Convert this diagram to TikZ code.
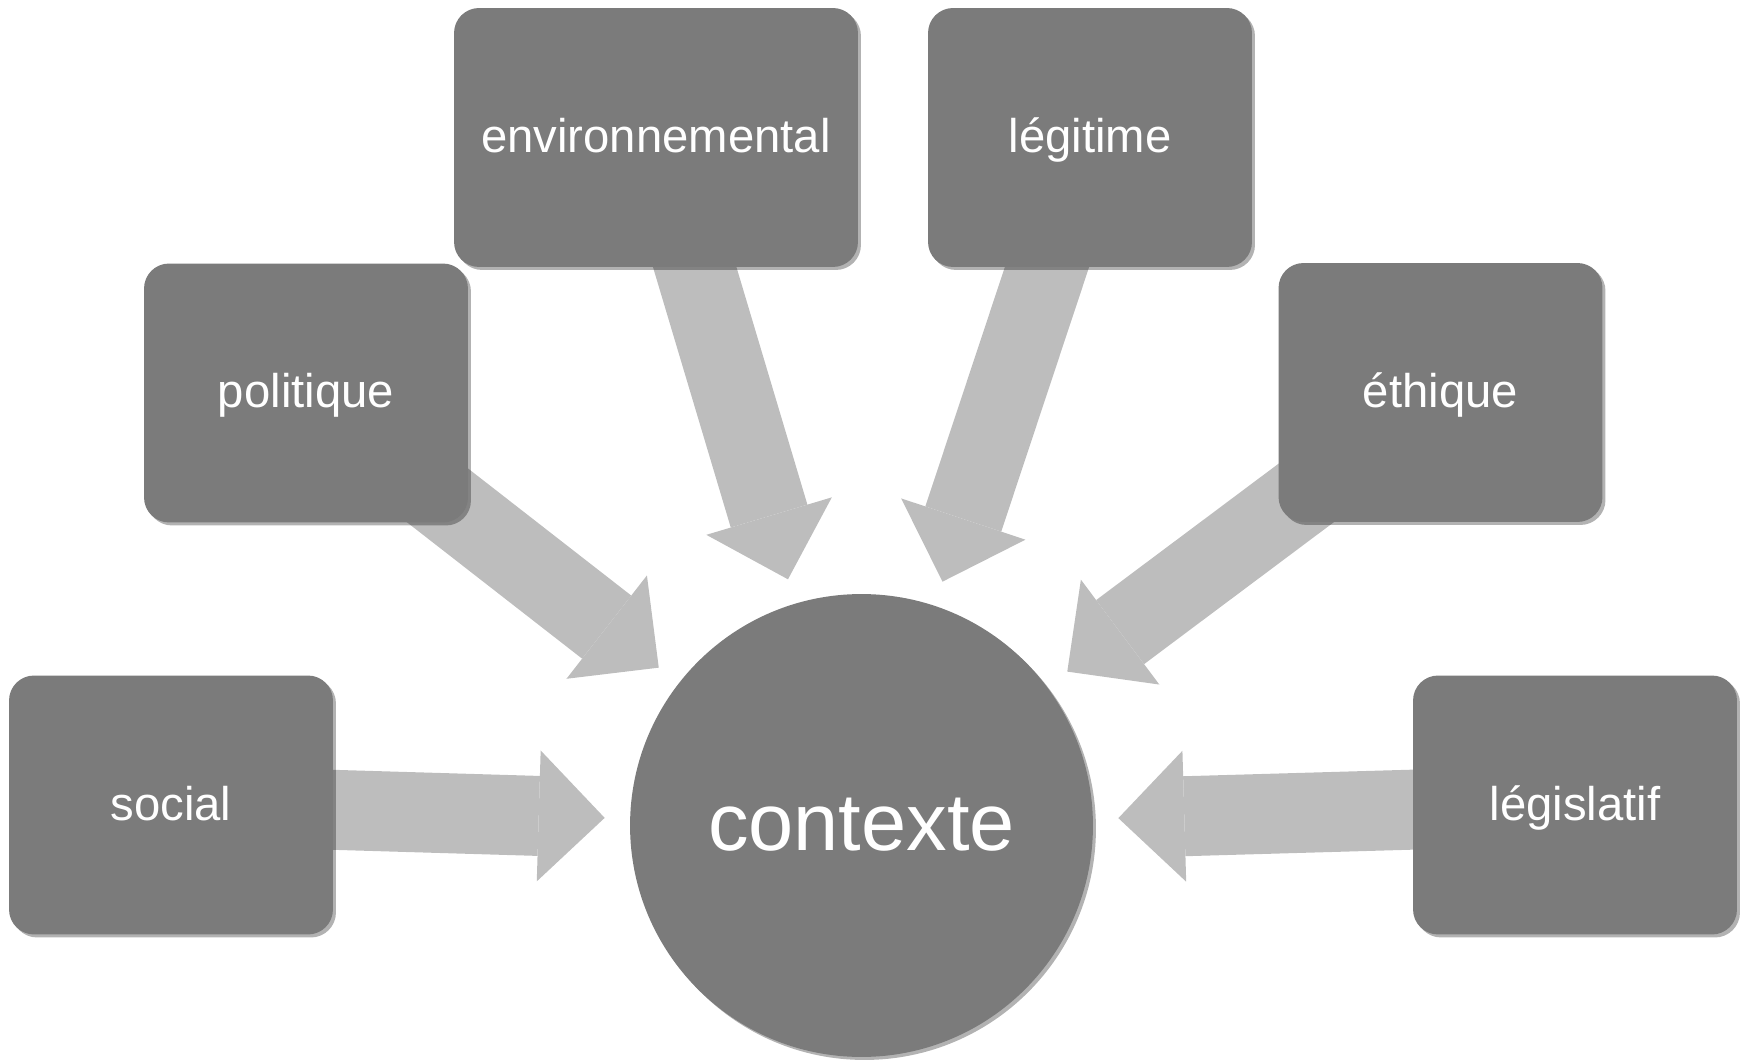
\documentclass[tikz,border=0pt]{standalone}
\usepackage{fontspec}
\setmainfont{Liberation Sans}
\usetikzlibrary{arrows.meta,calc,shadows,backgrounds}

\definecolor{gris}{RGB}{123,123,123}
\definecolor{grisclaro}{RGB}{189,189,189}

\tikzset{
  sombra/.style={drop shadow={shadow xshift=0.06cm, shadow yshift=-0.06cm, opacity=0.3, fill=black}},
  caja/.style={rounded corners=0.5cm, fill=gris, text=white, minimum width=6.48cm, minimum height=5.18cm,
    text height=0.8cm, text depth=0.2cm, font=\fontsize{26.9}{32}\selectfont, sombra},
  flecha/.style={line width=1.6cm, grisclaro, -{Triangle[width=2.62cm, length=1.32cm, line width=0pt]}}
}

\begin{document}
\begin{tikzpicture}[x=0.02cm, y=-0.02cm]
    \useasboundingbox (0,0) rectangle (1754,1060);

    % Nodo central
    \node[circle, fill=gris, text=white, minimum size=9.26cm, text height=1.35cm, text depth=0.35cm,
      font=\fontsize{46.2}{55}\selectfont, sombra] (ctx) at (861.5,825.5) {contexte};

    % Cajas
    \node[caja] (social) at (171,805) {social};
    \node[caja] (politique) at (306,393) {politique};
    \node[caja, minimum width=8.08cm] (environ) at (656,137.5) {environnemental};
    \node[caja] (legitime) at (1090,137.5) {légitime};
    \node[caja] (ethique) at (1440.5,392.5) {éthique};
    \node[caja] (legislatif) at (1575,805) {législatif};

    % Flechas
    \begin{pgfonlayer}{background}
        \foreach \n in {social,politique,environ,legitime,ethique,legislatif}
            \draw[flecha] (\n.center) -- ($(ctx.center)!5.14cm!(\n.center)$);
    \end{pgfonlayer}
\end{tikzpicture}
\end{document}
